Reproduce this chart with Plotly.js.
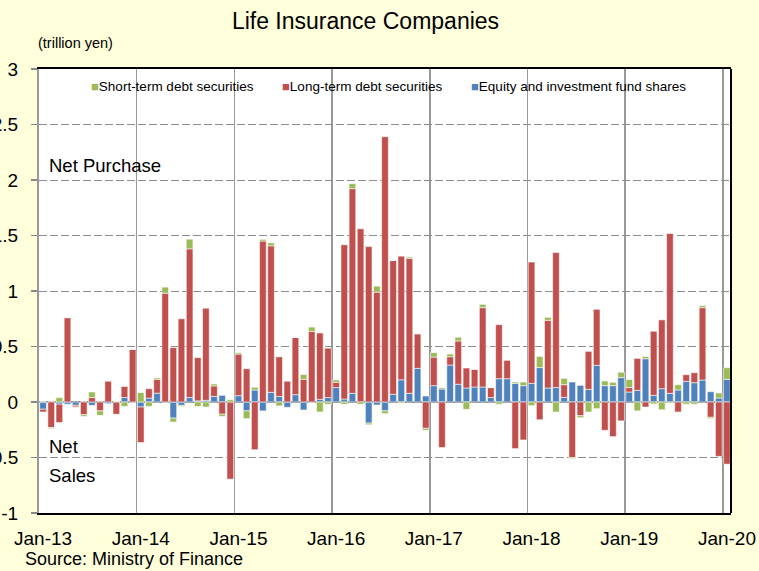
<!DOCTYPE html>
<html>
<head>
<meta charset="utf-8">
<script src="https://cdn.plot.ly/plotly-3.0.1.min.js"></script>
<style>
  html, body { margin: 0; padding: 0; background: #FFFFDC; }
  #chart { width: 759px; height: 571px; }
</style>
</head>
<body>
<div id="chart"></div>
<script>
// monthly net purchases, trillion yen, Jan-13 .. Jan-20
var monthNames = ['Jan', 'Feb', 'Mar', 'Apr', 'May', 'Jun', 'Jul', 'Aug', 'Sep', 'Oct', 'Nov', 'Dec'];
var years = ['13', '14', '15', '16', '17', '18', '19', '20'];
var yearTicks = ['Jan-13', 'Jan-14', 'Jan-15', 'Jan-16', 'Jan-17', 'Jan-18', 'Jan-19', 'Jan-20'];

var equity = [
  -0.065, 0, -0.02, -0.02, -0.03, 0, -0.03, 0, -0.015, 0, 0.04, 0,
  -0.045, 0.035, 0.08, 0, -0.145, -0.03, 0.04, 0.01, 0.015, 0.05, 0.06, 0,
  0.057, -0.08, 0.108, -0.08, 0.087, 0.05, -0.048, 0.066, -0.072, 0, 0.024, 0.04,
  0.13, 0.027, 0.078, 0, -0.19, -0.027, -0.08, 0.07, 0.2, 0.078, 0.303, 0.054,
  0.147, 0.117, 0.333, 0.16, 0.126, 0.135, 0.135, 0.04, 0.21, 0.21, 0.168, 0.147,
  0.168, 0.31, 0.126, 0.13, 0.042, 0.18, 0.15, 0.114, 0.33, 0.147, 0.147, 0.22,
  0.09, 0.105, 0.39, 0.06, 0.12, 0.078, 0.108, 0.186, 0.174, 0.198, 0.093, 0.036,
  0.204
];
var longTerm = [
  -0.025, -0.23, -0.165, 0.76, -0.015, -0.115, 0.04, -0.08, 0.19, -0.11, 0.10, 0.475,
  -0.32, 0.085, 0.125, 0.98, 0.49, 0.75, 1.34, 0.39, 0.83, 0.095, -0.11, -0.695,
  0.375, 0.30, -0.43, 1.45, 1.32, 0.357, 0.19, 0.515, 0.205, 0.635, 0.598, 0.445,
  0.048, 1.39, 1.844, 1.56, 1.40, 0.99, 2.39, 1.205, 1.114, 1.216, 0.312, -0.237,
  0.258, -0.41, 0.075, 0.39, 0.18, 0.16, 0.715, 0.09, 0.487, 0.168, -0.42, -0.342,
  1.093, -0.16, 0.61, 1.216, 0.114, -0.5, -0.123, 0.342, 0.505, -0.255, -0.312, -0.17,
  0.04, 0.288, -0.045, 0.577, 0.62, 1.44, -0.09, 0.06, 0.09, 0.652, -0.138, -0.49,
  -0.56
];
var shortTerm = [
  0, -0.01, 0.04, 0, -0.005, -0.015, 0.05, -0.04, 0, 0.005, -0.04, 0,
  0.085, -0.04, 0.012, 0.055, -0.035, -0.01, 0.087, -0.04, -0.045, 0.018, -0.02, 0.02,
  0.012, -0.07, 0.025, 0.015, 0.027, -0.035, 0, 0, 0.042, 0.04, -0.09, -0.02,
  0.02, -0.02, 0.045, -0.02, -0.015, 0.054, -0.025, 0, -0.01, 0.012, 0, -0.018,
  0.04, 0.012, 0.024, 0.033, -0.066, 0, 0.03, 0, -0.02, 0, 0.012, 0.033,
  -0.033, 0.10, 0.027, -0.09, 0.057, -0.01, -0.018, -0.09, -0.06, 0.042, 0.03, 0.048,
  0.072, -0.08, 0.02, -0.018, -0.07, -0.01, 0.048, -0.02, -0.02, 0.018, -0.012, 0.045,
  0.105
];
var yTickVals = [-1, -0.5, 0, 0.5, 1, 1.5, 2, 2.5, 3];
var yTickText = ['-1', '-0.5', '0', '0.5', '1', '1.5', '2', '2.5', '3'];

var months = [];
years.forEach(function (yr) {
  monthNames.forEach(function (m) {
    if (months.length < equity.length) months.push(m + '-' + yr);
  });
});

var FONT = 'Liberation Sans, Arial, sans-serif';
var barLine = { color: 'rgba(255,255,255,0.7)', width: 0.8 };

var traces = [
  { type: 'bar', name: 'Equity and investment fund shares', x: months, y: equity,
    marker: { color: '#4F81BD', line: barLine } },
  { type: 'bar', name: 'Long-term debt securities', x: months, y: longTerm,
    marker: { color: '#C0504D', line: barLine } },
  { type: 'bar', name: 'Short-term debt securities', x: months, y: shortTerm,
    marker: { color: '#9BBB59', line: barLine } }
];

// plot area is 39..731 px wide, 69..513 px tall
function px(x) { return (x - 39) / 692; }
function py(y) { return (513 - y) / 444; }

function legendItem(x, color, label) {
  return {
    xref: 'paper', yref: 'paper', x: px(x), y: py(86), xanchor: 'left', yanchor: 'middle',
    showarrow: false, borderpad: 0,
    text: '<span style="color:' + color + ';font-size:13px">■</span>' + label,
    font: { family: FONT, size: 13.5, color: '#000' }
  };
}

function note(x, y, text, size) {
  return {
    xref: 'paper', yref: 'paper', x: px(x), y: py(y), xanchor: 'left', yanchor: 'middle',
    showarrow: false, borderpad: 0, text: text,
    font: { family: FONT, size: size, color: '#000' }
  };
}

var layout = {
  width: 759, height: 571,
  margin: { l: 39, r: 28, t: 69, b: 58 },
  paper_bgcolor: '#FFFFDC',
  plot_bgcolor: '#FFFFFF',
  barmode: 'relative',
  bargap: 0.18,
  showlegend: false,
  font: { family: FONT, color: '#000' },
  title: {
    text: 'Life Insurance Companies',
    font: { family: FONT, size: 23, color: '#000' },
    x: 365.5 / 759, xanchor: 'center',
    y: 1 - 21 / 571, yanchor: 'middle'
  },
  xaxis: {
    type: 'category',
    categoryorder: 'array', categoryarray: months,
    range: [-0.5, months.length - 0.5],
    tickmode: 'array', tickvals: yearTicks, ticktext: yearTicks,
    tickson: 'boundaries',
    tickangle: 0,
    ticks: '',
    showgrid: true, gridcolor: '#999999', gridwidth: 1.5,
    showline: true, linecolor: '#000', linewidth: 2, mirror: true,
    tickfont: { family: FONT, size: 19, color: '#000' },
    ticklabelstandoff: 7,
    fixedrange: true
  },
  yaxis: {
    range: [-1, 3],
    tickmode: 'array', tickvals: yTickVals, ticktext: yTickText,
    ticks: 'outside', ticklen: 6, tickcolor: '#888', tickwidth: 1.5,
    showgrid: true, gridcolor: '#8C8C8C', gridwidth: 1, griddash: '8px,3px',
    zeroline: true, zerolinecolor: '#888888', zerolinewidth: 2,
    showline: true, linecolor: '#999999', linewidth: 2,
    tickfont: { family: FONT, size: 19, color: '#000' },
    ticklabelstandoff: 9,
    fixedrange: true
  },
  shapes: [
    { type: 'line', xref: 'paper', yref: 'paper', x0: 1, x1: 1, y0: 0, y1: 1,
      line: { color: '#000', width: 2 } }
  ],
  annotations: [
    legendItem(90, '#9BBB59', 'Short-term debt securities'),
    legendItem(281, '#C0504D', 'Long-term debt securities'),
    legendItem(470, '#4F81BD', 'Equity and investment fund shares'),
    note(37, 43, '(trillion yen)', 14.5),
    note(48, 165, 'Net Purchase', 18.5),
    note(48, 446, 'Net', 18.5),
    note(48, 475, 'Sales', 18.5),
    note(24, 559, 'Source: Ministry of Finance', 18)
  ]
};

Plotly.newPlot('chart', traces, layout, { staticPlot: true });
</script>
</body>
</html>
